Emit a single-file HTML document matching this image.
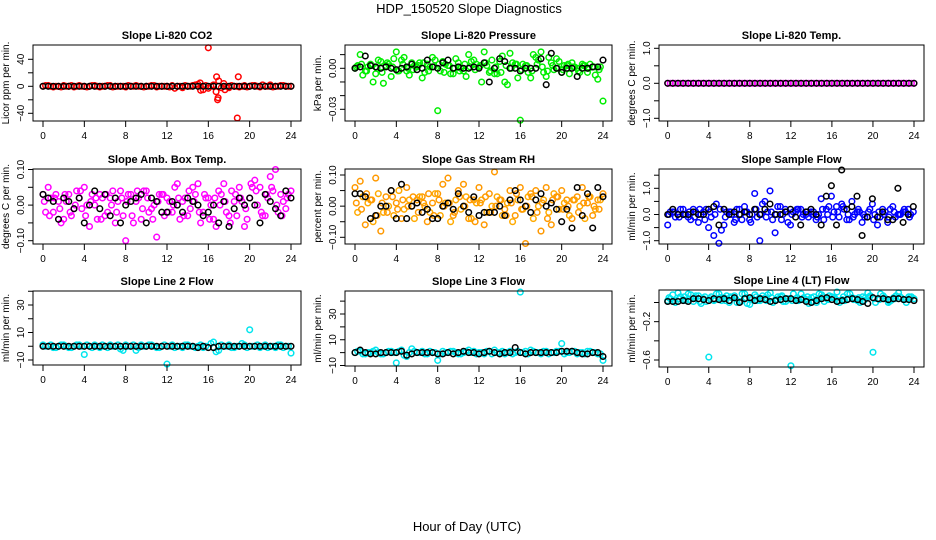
<!DOCTYPE html>
<html><head><meta charset="utf-8">
<style>
html,body{margin:0;padding:0;background:#fff;}
svg{display:block;font-family:"Liberation Sans",Arial,sans-serif;}
</style></head>
<body>
<svg id="chart" width="936" height="540" viewBox="0 0 936 540" xmlns="http://www.w3.org/2000/svg">
<text x="469" y="13" font-size="13" text-anchor="middle">HDP_150520  Slope Diagnostics</text>
<text x="467" y="531" font-size="13" text-anchor="middle">Hour of Day (UTC)</text>
</svg>
<script>
const hoursA=[0,0.5,1,1.5,2,2.5,3,3.5,4,4.5,5,5.5,6,6.5,7,7.5,8,8.5,9,9.5,10,10.5,11,11.5,12,12.5,13,13.5,14,14.5,15,15.5,16,16.5,17,17.5,18,18.5,19,19.5,20,20.5,21,21.5,22,22.5,23,23.5,24];
const hoursB=[0.25,0.75,1.25,1.75,2.25,2.75,3.25,3.75,4.25,4.75,5.25,5.75,6.25,6.75,7.25,7.75,8.25,8.75,9.25,9.75,10.25,10.75,11.25,11.75,12.25,12.75,13.25,13.75,14.25,14.75,15.25,15.75,16.25,16.75,17.25,17.75,18.25,18.75,19.25,19.75,20.25,20.75,21.25,21.75,22.25,22.75,23.25,23.75];
const hoursC=[0.125,0.625,1.125,1.625,2.125,2.625,3.125,3.625,4.125,4.625,5.125,5.625,6.125,6.625,7.125,7.625,8.125,8.625,9.125,9.625,10.125,10.625,11.125,11.625,12.125,12.625,13.125,13.625,14.125,14.625,15.125,15.625,16.125,16.625,17.125,17.625,18.125,18.625,19.125,19.625,20.125,20.625,21.125,21.625,22.125,22.625,23.125,23.625];
const xTicks=[0,4,8,12,16,20,24];

// CO2
const co2A=[0,1,-1,0,1,0,-1,1,0,0,1,-1,0,1,0,0,-1,0,1,0,0,1,-1,0,0,1,0,-2,0,1,3,-5,-3,2,8,4,-2,0,-1,1,0,1,-1,0,2,0,1,0,0];
const co2B=[1,0,0,-1,0,1,0,0,-1,1,0,0,1,-1,0,0,1,0,0,-1,0,1,0,0,-1,-3,0,1,0,2,-6,1,0,-8,-2,0,1,0,0,-1,1,0,2,0,-1,0,1,0];
const co2OutX=[16,16.8,16.9,16.95,18.8,18.9,17.6,15.2];
const co2OutY=[57,14,-20,-17,-47,14,-5,5];
const co2Blk=[0,0,0,0,0,0,0,0,0,0,0,0,0,0,0,0,0,0,0,0,0,0,0,0,0,0,0,0,0,0,0,0,0,0,0,0,0,0,0,0,0,0,0,0,0,0,0,0,0];
// Pressure
const presA=[0.000,0.010,-0.002,0.003,-0.004,0.005,0.002,-0.006,0.012,0.006,-0.002,0.004,0.001,-0.007,0.003,0.008,-0.031,0.005,0.002,-0.004,0.004,-0.002,0.010,0.006,0.001,0.012,-0.003,-0.004,0.005,-0.010,0.011,0.003,-0.038,0.002,-0.007,0.008,0.012,-0.006,0.004,0.007,-0.003,0.002,0.004,0.000,0.003,-0.003,0.001,-0.008,-0.024];
const presB=[0.002,-0.005,0.001,-0.010,0.006,-0.011,0.003,0.007,-0.002,0.008,-0.005,0.002,0.004,-0.003,0.001,0.006,-0.002,0.003,-0.004,0.007,0.000,-0.006,0.005,0.003,-0.010,0.002,0.006,-0.004,0.009,-0.012,0.004,-0.007,0.003,-0.003,0.010,0.006,-0.003,0.008,-0.001,0.005,0.002,-0.004,0.001,-0.003,0.002,0.003,-0.005,0.001];
const presC=[0.001,0.003,-0.002,0.002,0.000,-0.003,0.004,0.001,-0.002,0.003,0.000,-0.001,0.002,0.004,-0.002,0.001,0.003,-0.003,0.002,0.000,-0.002,0.003,0.001,-0.001,0.002,0.004,-0.002,0.001,-0.003,0.002,0.000,0.003,-0.001,0.002,-0.002,0.003,0.001,-0.002,0.002,0.000,-0.001,0.003,0.001,-0.002,0.002,0.000,0.001,-0.001];
const presBlk=[0,0.001,0.009,0.002,0.001,0.000,0.001,0.000,-0.001,0.000,0.001,0.003,-0.001,0.000,0.006,0.001,0.000,0.004,0.006,0.000,0.001,0.000,0.000,0.001,0.000,0.004,-0.010,0.000,0.007,0.005,0.000,0.000,-0.002,0.000,0.000,0.000,0.007,-0.012,0.011,0.000,-0.003,0.000,0.000,-0.006,0.000,0.000,0.001,0.001,0.006];
// Li-820 Temp
const tempA=[0,0,0,0,0,0,0,0,0,0,0,0,0,0,0,0,0,0,0,0,0,0,0,0,0,0,0,0,0,0,0,0,0,0,0,0,0,0,0,0,0,0,0,0,0,0,0,0,0];
const tempB=[0,0,0,0,0,0,0,0,0,0,0,0,0,0,0,0,0,0,0,0,0,0,0,0,0,0,0,0,0,0,0,0,0,0,0,0,0,0,0,0,0,0,0,0,0,0,0,0];
const tempBlk=[0,0,0,0,0,0,0,0,0,0,0,0,0,0,0,0,0,0,0,0,0,0,0,0,0,0,0,0,0,0,0,0,0,0,0,0,0,0,0,0,0,0,0,0,0,0,0,0,0];
// Amb box temp
const ambA=[0.03,0.05,-0.02,0.01,-0.04,0.03,-0.01,0.02,0.05,-0.06,0.00,0.03,-0.03,0.02,-0.05,0.04,-0.10,0.03,0.01,-0.04,0.04,-0.01,-0.09,0.03,0.02,-0.02,0.06,0.01,-0.03,0.05,0.06,-0.02,0.02,-0.04,0.04,0.06,-0.03,0.01,0.05,-0.06,0.02,0.07,0.05,-0.03,0.08,0.10,0.03,-0.01,0.04];
const ambB=[-0.02,0.02,0.03,-0.05,0.01,-0.03,0.04,-0.01,0.00,0.03,-0.04,0.02,-0.02,0.04,0.01,-0.03,0.03,-0.05,0.02,0.04,-0.02,0.00,0.03,-0.03,0.01,0.05,-0.04,0.02,-0.01,0.03,-0.05,0.02,0.00,-0.06,0.03,-0.02,0.04,-0.03,0.01,-0.04,0.05,0.00,-0.03,0.02,0.04,-0.02,0.01,0.03];
const ambC=[0.01,-0.03,0.02,-0.01,0.03,-0.02,0.00,0.04,-0.03,0.01,0.02,-0.04,0.03,0.00,-0.02,0.02,0.01,-0.03,0.04,-0.01,0.02,-0.04,0.01,0.03,-0.02,0.00,0.02,-0.03,0.04,0.01,-0.02,0.03,-0.04,0.02,0.00,0.01,-0.05,0.03,0.02,-0.01,0.06,0.04,-0.02,0.03,0.05,0.00,-0.03,0.02];
const ambBlk=[0.03,0.02,0.01,-0.04,0.02,0.01,-0.01,0.02,-0.05,0.00,0.04,-0.01,0.03,-0.03,0.02,-0.05,0.00,0.01,0.02,0.03,-0.05,0.02,0.01,-0.02,-0.02,0.01,0.00,-0.02,0.02,0.01,0.00,-0.03,-0.02,0.00,-0.05,0.01,-0.06,-0.01,0.02,0.00,0.02,0.00,-0.05,0.03,0.01,-0.01,-0.03,0.04,0.02];
// RH
const rhA=[0.06,0.08,-0.06,0.02,0.09,-0.08,0.03,0.05,0.01,-0.04,0.06,0.00,0.02,0.03,-0.05,0.01,0.04,0.07,0.09,-0.03,0.05,0.07,-0.04,0.02,0.06,-0.06,0.04,0.11,0.02,-0.01,0.05,-0.03,0.06,-0.12,0.04,0.05,-0.08,0.06,-0.06,0.03,0.05,0.02,-0.04,0.03,0.06,0.01,-0.03,0.02,0.04];
const rhB=[-0.02,0.03,0.01,-0.05,0.04,-0.02,0.00,-0.03,0.05,-0.01,0.02,-0.04,0.03,0.00,-0.02,0.04,-0.03,0.01,-0.05,0.02,-0.01,0.03,-0.04,0.01,0.02,-0.02,0.00,0.03,-0.03,0.01,-0.05,0.02,-0.01,0.03,-0.04,0.00,0.02,-0.02,0.04,-0.01,0.01,-0.03,0.02,0.00,-0.04,0.03,-0.01,0.02];
const rhC=[0.01,-0.01,0.04,0.02,-0.03,0.01,-0.02,0.03,-0.01,0.02,0.00,0.03,-0.02,0.01,0.04,-0.03,0.02,0.00,0.01,-0.02,0.03,0.00,0.02,-0.05,0.01,0.03,-0.02,0.00,0.02,-0.03,0.01,0.04,-0.01,0.00,0.03,-0.02,0.01,-0.04,0.02,0.03,-0.01,0.00,0.02,-0.02,0.01,0.03,0.00,-0.01];
const rhBlk=[0.04,0.04,0.03,-0.04,-0.03,0.00,0.00,0.05,-0.04,0.07,-0.04,0.00,0.01,-0.02,-0.01,-0.04,-0.04,0.00,0.01,-0.01,0.04,0.00,-0.02,0.03,-0.03,-0.02,-0.02,-0.02,0.00,-0.03,0.02,0.05,0.02,0.00,-0.02,0.02,0.04,0.00,0.01,-0.01,-0.05,-0.01,-0.07,0.06,-0.03,0.04,-0.07,0.06,0.03];
// Sample flow
const sfA=[-0.4,0.1,0.0,0.2,-0.1,0.2,-0.3,0.1,-0.5,-0.8,-1.1,-0.4,0.1,-0.3,0.2,0.3,-0.2,0.8,-1.0,0.5,0.9,-0.7,0.3,0.2,-0.4,0.1,0.2,0.0,0.1,-0.2,0.6,0.2,0.7,0.3,0.4,-0.2,0.5,0.1,-0.3,-0.1,0.4,-0.4,0.2,-0.3,0.3,0.0,0.1,0.2,0.1];
const sfB=[0.1,-0.1,0.2,0.0,-0.2,0.1,0.0,0.2,-0.1,0.4,-0.6,0.1,0.0,0.2,-0.2,0.1,0.0,-0.1,0.4,0.1,-0.2,0.3,0.0,-0.3,0.1,0.2,0.0,-0.1,0.1,0.0,-0.2,0.3,0.1,-0.1,0.2,-0.2,0.0,0.1,-0.1,0.2,0.0,-0.1,0.1,0.2,-0.1,0.0,0.1,0.0];
const sfC=[0.0,0.1,-0.1,0.0,0.1,-0.1,0.2,-0.2,0.1,0.0,0.2,-0.1,0.1,-0.2,0.0,0.1,-0.3,0.2,0.0,-0.1,0.1,0.0,-0.2,0.1,0.0,0.2,-0.1,0.1,0.0,-0.1,0.2,0.0,-0.1,0.1,0.3,0.0,-0.1,0.2,0.0,0.1,-0.2,0.1,0.0,-0.1,0.1,0.0,0.2,-0.1];
const sfBlk=[0.0,0.2,0.0,0.0,0.0,0.1,0.0,0.0,0.2,0.3,-0.4,0.2,0.0,0.1,0.0,0.1,0.0,0.2,0.0,0.2,0.4,0.0,0.0,0.1,0.2,-0.1,-0.4,0.1,0.2,0.0,-0.4,0.7,1.1,-0.4,1.7,0.2,0.3,0.7,-0.8,-0.1,0.6,-0.1,0.1,-0.2,-0.2,1.0,-0.3,0.0,0.3];
// Line 2 flow
const l2A=[1,0,-1,0,1,-1,0,1,-6,0,1,-1,0,1,0,-2,1,0,-3,1,0,1,-1,0,-13,1,0,-1,1,0,0,-1,47,3,-3,0,1,-1,0,1,12,0,-1,1,0,-1,1,0,-5];
const l2B=[0,1,-1,1,0,-1,1,0,1,-1,0,1,-1,0,1,-3,0,1,-1,0,1,0,-1,1,0,-1,0,1,0,-1,1,0,2,-4,1,0,-1,0,2,-1,0,1,0,-1,0,1,-1,0];
const l2Blk=[0,0,0,0,0,0,0,0,0,0,0,0,0,0,0,0,0,0,0,0,0,0,0,0,0,0,0,0,0,0,-1,0,-1,-1,0,0,0,0,0,0,0,0,0,0,0,0,0,0,0];
// Line 3 flow
const l3A=[0,1,-1,0,2,-1,0,1,-8,2,-3,3,0,1,-1,0,-6,1,0,1,-1,0,2,1,0,-1,1,2,0,-1,1,0,47,1,2,0,-1,1,0,1,7,0,1,-1,0,1,0,-1,-6];
const l3B=[1,-1,0,1,0,-1,1,0,1,-2,0,1,0,-1,1,0,-1,0,1,0,-1,1,0,-1,0,1,-1,0,1,0,-1,1,0,-1,1,0,1,-1,0,1,-1,0,1,0,-1,1,0,-1];
const l3Blk=[0,2,0,-1,-1,0,0,0,0,1,-2,-1,0,0,0,0,-1,-1,0,-1,0,1,0,0,-1,0,1,0,-1,0,0,4,0,-1,0,0,0,0,0,0,1,1,1,0,-1,-1,0,0,-3];
// Line 4 flow
const l4A=[0.02,0.08,0.10,0.03,0.09,0.01,0.07,0.04,-0.57,0.02,0.09,0.05,0.00,0.07,0.01,0.09,-0.02,0.08,0.02,0.05,0.10,0.03,0.06,0.01,-0.66,0.04,0.09,0.03,0.05,0.00,0.08,0.04,0.06,0.11,0.03,0.09,0.05,0.02,0.06,0.10,-0.52,0.04,0.07,0.00,0.05,0.10,0.03,0.06,0.04];
const l4B=[0.04,0.00,0.06,0.02,0.08,0.07,-0.01,0.01,0.06,0.09,0.02,0.07,0.05,0.00,0.09,-0.01,0.04,0.02,0.07,0.08,0.00,0.06,0.01,0.04,0.09,0.02,0.05,-0.01,0.06,0.09,0.01,0.07,0.05,0.00,0.02,0.09,0.04,0.00,0.05,0.07,0.00,0.09,0.04,0.02,0.07,0.05,0.00,0.06];
const l4C=[0.05,0.02,0.04,0.06,0.03,0.05,0.01,0.06,0.04,0.03,0.05,0.02,0.06,0.04,0.01,0.05,0.03,0.06,0.04,0.02,0.05,0.03,0.07,0.04,0.02,0.05,0.03,0.06,0.01,0.04,0.06,0.03,0.05,0.02,0.06,0.04,0.03,0.05,0.02,0.06,0.04,0.03,0.05,0.01,0.04,0.06,0.03,0.05];
const l4Blk=[0.01,0.01,0.01,0.02,0.01,0.04,0.04,0.03,0.02,0.04,0.03,0.04,0.02,0.05,0.00,0.04,0.05,0.02,0.04,0.03,0.01,0.02,0.03,0.04,0.04,0.02,0.03,0.01,0.00,0.02,0.04,0.05,0.03,0.01,0.02,0.03,0.04,0.03,0.01,-0.01,0.05,0.04,0.04,0.03,0.04,0.04,0.03,0.03,0.02];

const svg=document.getElementById('chart');
const NS='http://www.w3.org/2000/svg';
function mk(tag,attrs,parent){const e=document.createElementNS(NS,tag);for(const k in attrs)e.setAttribute(k,attrs[k]);(parent||svg).appendChild(e);return e;}

const panels=[
 {name:'co2',title:'Slope Li-820 CO2',ylab:'Licor ppm per min.',box:[33,45,301,121],xs:[43,291],yv:[40,-40],yp:[59.3,113.3],ticks:[-40,-20,0,20,40],labs:{'-40':'-40','0':'0','40':'40'},
  series:[[hoursA,co2A,'#ff0000'],[hoursB,co2B,'#ff0000'],[co2OutX,co2OutY,'#ff0000'],[hoursA,co2Blk,'#000']]},
 {name:'pressure',title:'Slope Li-820 Pressure',ylab:'kPa per min.',box:[345,45,612,121],xs:[355,603],yv:[0,-0.03],yp:[68.3,109.3],ticks:[-0.03,-0.02,-0.01,0,0.01],labs:{'-0.03':'-0.03','0':'0.00'},
  series:[[hoursA,presA,'#00ee00'],[hoursB,presB,'#00ee00'],[hoursC,presC,'#00ee00'],[hoursA,presBlk,'#000']]},
 {name:'li820-temp',title:'Slope Li-820 Temp.',ylab:'degrees C per min.',box:[659,45,924,121],xs:[667.7,914],yv:[1,-1],yp:[48.3,118.3],ticks:[-1,-0.5,0,0.5,1],labs:{'-1':'-1.0','0':'0.0','1':'1.0'},
  series:[[hoursA,tempA,'#ff00ff'],[hoursB,tempB,'#ff00ff'],[hoursA,tempBlk,'#000']]},
 {name:'amb-box-temp',title:'Slope Amb. Box Temp.',ylab:'degrees C per min.',box:[33,169,301,244],xs:[43,291],yv:[0.1,-0.1],yp:[169.5,240.7],ticks:[-0.1,-0.05,0,0.05,0.1],labs:{'-0.1':'-0.10','0':'0.00','0.1':'0.10'},
  series:[[hoursA,ambA,'#ff00ff'],[hoursB,ambB,'#ff00ff'],[hoursC,ambC,'#ff00ff'],[hoursA,ambBlk,'#000']]},
 {name:'gas-stream-rh',title:'Slope Gas Stream RH',ylab:'percent per min.',box:[345,169,612,244],xs:[355,603],yv:[0.1,-0.1],yp:[175,237.3],ticks:[-0.1,-0.05,0,0.05,0.1],labs:{'-0.1':'-0.10','0':'0.00','0.1':'0.10'},
  series:[[hoursA,rhA,'#ff9900'],[hoursB,rhB,'#ffaa00'],[hoursC,rhC,'#ff9900'],[hoursA,rhBlk,'#000']]},
 {name:'sample-flow',title:'Slope Sample Flow',ylab:'ml/min per min.',box:[659,169,924,244],xs:[667.7,913.3],yv:[1,-1],yp:[188.3,240.7],ticks:[-1,-0.5,0,0.5,1,1.5],labs:{'-1':'-1.0','0':'0.0','1':'1.0'},
  series:[[hoursA,sfA,'#0000ff'],[hoursB,sfB,'#0000ff'],[hoursC,sfC,'#0000ff'],[hoursA,sfBlk,'#000']]},
 {name:'line2-flow',title:'Slope Line 2 Flow',ylab:'ml/min per min.',box:[33,291,301,365],xs:[43,291],yv:[30,-10],yp:[305,360],ticks:[-10,0,10,20,30,40],labs:{'-10':'-10','10':'10','30':'30'},
  series:[[hoursA,l2A,'#00e5ee'],[hoursB,l2B,'#00e5ee'],[hoursA,l2Blk,'#000']]},
 {name:'line3-flow',title:'Slope Line 3 Flow',ylab:'ml/min per min.',box:[345,291,612,366],xs:[355,603],yv:[30,-10],yp:[314,365.5],ticks:[-10,0,10,20,30,40],labs:{'-10':'-10','10':'10','30':'30'},
  series:[[hoursA,l3A,'#00e5ee'],[hoursB,l3B,'#00e5ee'],[hoursA,l3Blk,'#000']]},
 {name:'line4-flow',title:'Slope Line 4 (LT) Flow',ylab:'ml/min per min.',box:[659,290,924,367],xs:[667.7,914],yv:[0,-0.6],yp:[302.5,360],ticks:[-0.6,-0.4,-0.2,0],labs:{'-0.6':'-0.6','-0.2':'-0.2'},
  series:[[hoursA,l4A,'#00e5ee'],[hoursB,l4B,'#00e5ee'],[hoursC,l4C,'#00e5ee'],[hoursA,l4Blk,'#000']]}
];

panels.forEach(p=>{
  const g=mk('g',{});
  
  
  const [l,t,r,b]=p.box;
  const xS=h=>p.xs[0]+(h/24)*(p.xs[1]-p.xs[0]);
  const yS=v=>p.yp[0]+(v-p.yv[0])*(p.yp[1]-p.yp[0])/(p.yv[1]-p.yv[0]);
  const ti=mk('text',{x:(l+r)/2,y:t-6,'font-size':11,'font-weight':'bold','text-anchor':'middle'},g);
  ti.textContent=p.title;
  
  
  const cl=mk('svg',{x:l-4,y:t-4,width:r-l+8,height:b-t+8,overflow:'hidden'},g);
  const inner=mk('g',{transform:`translate(${-(l-4)},${-(t-4)})`},cl);
  p.series.forEach(s=>{
    const [xs,ys,col]=s;
    const n=Math.min(xs.length,ys.length);
    for(let i=0;i<n;i++){
      const c=mk('circle',{cx:xS(xs[i]).toFixed(1),cy:yS(ys[i]).toFixed(1),r:2.8,fill:'none',stroke:col,'stroke-width':1.5},inner);
      
      
    }
  });
  const bx=mk('rect',{x:l,y:t,width:r-l,height:b-t,fill:'none',stroke:'#000','stroke-width':1},g);
  
  
  xTicks.forEach(h=>{
    const x=xS(h);
    mk('line',{x1:x,x2:x,y1:b,y2:b+6,stroke:'#000'},g);
    const tx=mk('text',{x:x,y:b+18,'font-size':10,'text-anchor':'middle'},g);
    tx.textContent=h;
    
    
  });
  mk('line',{x1:xS(0),x2:xS(24),y1:b,y2:b,stroke:'#000'},g);
  const yt=p.ticks.map(yS);
  mk('line',{x1:l,x2:l,y1:Math.min(...yt),y2:Math.max(...yt),stroke:'#000'},g);
  p.ticks.forEach(v=>{
    const y=yS(v);
    mk('line',{x1:l-5,x2:l,y1:y,y2:y,stroke:'#000'},g);
    const lab=p.labs[String(v)];
    if(lab){
      const tx=mk('text',{x:l-9,y:y,'font-size':10,'text-anchor':'middle',transform:`rotate(-90 ${l-9} ${y})`},g);
      tx.textContent=lab.replace('-','\u2212');
      
      
    }
  });
  const yl=mk('text',{x:l-24,y:(t+b)/2,'font-size':10,'text-anchor':'middle',transform:`rotate(-90 ${l-24} ${(t+b)/2})`},g);
  yl.textContent=p.ylab;
  
  
});
</script>
</body></html>
